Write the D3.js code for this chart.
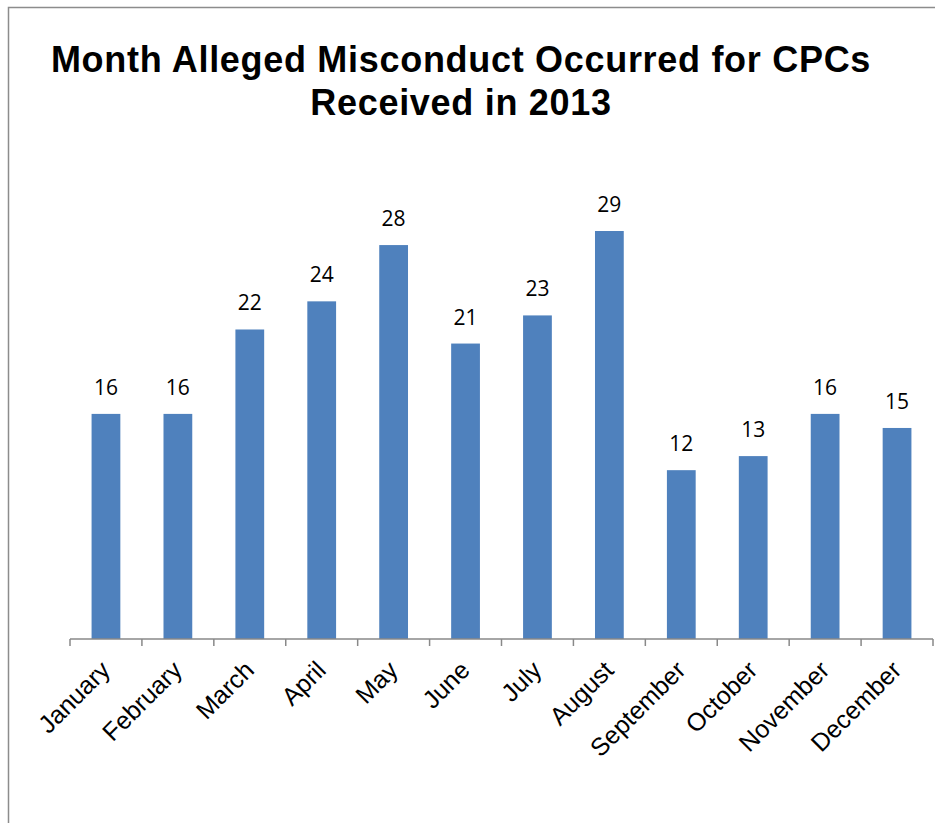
<!DOCTYPE html>
<html>
<head>
<meta charset="utf-8">
<script src="https://cdn.jsdelivr.net/npm/d3@7"></script>
<style>
  body { margin: 0; background: #fff; }
  .title { font-family: "Liberation Sans", Arial, sans-serif; font-weight: bold; font-size: 36px; letter-spacing: 0.7px; fill: #000; }
  .valLabel { font-family: "Open Sans", sans-serif; font-size: 21px; fill: #000; }
  .axis-x text { font-family: "Liberation Sans", Arial, sans-serif; font-size: 25px; fill: #000; }
  .axis-x path, .axis-x line { stroke: #898989; stroke-width: 1.5; }
</style>
</head>
<body>
<div id="chart"></div>
<script>
// data
var months = ['January', 'February', 'March', 'April', 'May', 'June', 'July',
  'August', 'September', 'October', 'November', 'December'];
var counts = [16, 16, 22, 24, 28, 21, 23, 29, 12, 13, 16, 15];
var titleLines = ['Month Alleged Misconduct Occurred for CPCs', 'Received in 2013'];

var W = 935, H = 823;
var margin = {t: 0, r: 2, b: 184, l: 70};
var width = W - margin.l - margin.r,   // 863
    height = 639;                       // baseline of the bars

var svg = d3.select('#chart').append('svg')
  .attr('width', W)
  .attr('height', H);

// outer chart frame (only left/top visible in the picture)
svg.append('rect')
  .attr('x', 8.5).attr('y', 7.5)
  .attr('width', W + 20).attr('height', H + 20)
  .attr('fill', 'none')
  .attr('stroke', '#8c8c8c')
  .attr('stroke-width', 1.5);

// title
svg.selectAll('.title')
  .data(titleLines)
  .enter()
  .append('text')
  .attr('class', 'title')
  .attr('x', 461)
  .attr('y', function(d, i) { return 72 + i * 43; })
  .attr('text-anchor', 'middle')
  .text(function(d) { return d; });

// scales
var scaleX = d3.scaleBand().domain(months).range([0, width]).paddingInner(0.6).paddingOuter(0.3);
var scaleY = d3.scaleLinear().domain([0, 29]).range([height, 231]);

var plot = svg.append('g').attr('transform', 'translate(' + margin.l + ',0)');

// bars
plot.selectAll('.bar')
  .data(counts)
  .enter()
  .append('rect')
  .attr('class', 'bar')
  .attr('x', function(d, i) { return scaleX(months[i]); })
  .attr('y', function(d) { return scaleY(d); })
  .attr('width', scaleX.bandwidth())
  .attr('height', function(d) { return scaleY(0) - scaleY(d); })
  .attr('fill', '#4f81bd');

// value labels
plot.selectAll('.valLabel')
  .data(counts)
  .enter()
  .append('text')
  .attr('class', 'valLabel')
  .attr('x', function(d, i) { return scaleX(months[i]) + scaleX.bandwidth() / 2; })
  .attr('y', function(d) { return scaleY(d) - 19; })
  .attr('text-anchor', 'middle')
  .text(function(d) { return d; });

// x axis: ticks between categories like Excel
var axisX = d3.axisBottom(scaleX).tickSize(0).tickPadding(0);
var gx = plot.append('g')
  .attr('class', 'axis-x')
  .attr('transform', 'translate(0,' + height + ')')
  .call(axisX);
gx.select('.domain').attr('d', 'M0,0H' + width);

// boundary ticks
var bounds = d3.range(months.length + 1);
gx.selectAll('.sep')
  .data(bounds)
  .enter()
  .append('line')
  .attr('class', 'sep')
  .attr('x1', function(d) { return d * width / months.length; })
  .attr('x2', function(d) { return d * width / months.length; })
  .attr('y1', 0)
  .attr('y2', 7);

gx.selectAll('.tick text')
  .attr('text-anchor', 'end')
  .attr('dy', '0.72em')
  .attr('transform', 'translate(-7,20) rotate(-45)')
  .attr('y', 0)
  .attr('x', 0);
</script>
</body>
</html>
